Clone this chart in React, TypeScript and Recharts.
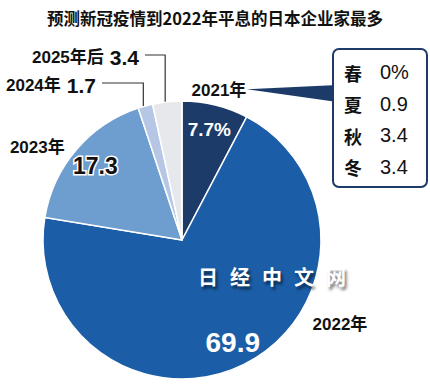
import React from 'react';
import { PieChart, Pie, Cell } from 'recharts';

// 预测新冠疫情平息的年份 (%)
const years = ['2021年', '2022年', '2023年', '2024年', '2025年后'];
const shares = [7.7, 69.9, 17.3, 1.7, 3.4];
const shareLabels = ['7.7%', '69.9', '17.3', '1.7', '3.4'];

// 季节分布 (2021年内)
const seasons = ['春', '夏', '秋', '冬'];
const seasonValues = ['0%', '0.9', '3.4', '3.4'];

const COLORS = ['#1d3b69', '#1b5ea7', '#6e9dcf', '#b5c7e4', '#e6e8ec'];
const NAVY = '#1d3b69';
const NUM_FONT = '"Liberation Sans", Arial, "Noto Sans CJK SC", sans-serif';
const CJK_FONT = '"Noto Sans CJK SC", "Liberation Sans", sans-serif';

const BOX = { left: 332, top: 48, width: 96, height: 140 };

const data = years.map((name, i) => ({ name, value: shares[i], label: shareLabels[i] }));

const RAD = Math.PI / 180;

const renderLabel = (props: any) => {
  const { cx, cy, midAngle, outerRadius, index } = props;
  const cos = Math.cos(-midAngle * RAD);
  const sin = Math.sin(-midAngle * RAD);
  const ex = cx + outerRadius * cos;
  const ey = cy + outerRadius * sin;
  const ix = cx + outerRadius * 0.82 * cos;
  const iy = cy + outerRadius * 0.82 * sin;
  const name = years[index];
  const val = shareLabels[index];

  if (index === 0) {
    const nx = cx + outerRadius * 1.11 * cos;
    const ny = cy + outerRadius * 1.11 * sin;
    return (
      <g>
        <polygon points={`${nx + 28},${ny - 1} ${BOX.left},${ny - 5} ${BOX.left},${ny + 11}`} fill={NAVY} />
        <text x={nx} y={ny} textAnchor="middle" dominantBaseline="central" fontFamily={NUM_FONT} fontWeight="bold" fontSize={17} fill="#111">{name}</text>
        <text x={ix} y={iy} textAnchor="middle" dominantBaseline="central" fontFamily={NUM_FONT} fontWeight="bold" fontSize={19} fill="#fff">{val}</text>
      </g>
    );
  }
  if (index === 1) {
    return (
      <g>
        <text x={ex + 96} y={ey - 40} textAnchor="middle" dominantBaseline="central" fontFamily={NUM_FONT} fontWeight="bold" fontSize={17} fill="#111">{name}</text>
        <text x={ix} y={iy} textAnchor="middle" dominantBaseline="central" fontFamily={NUM_FONT} fontWeight="bold" fontSize={28} fill="#fff">{val}</text>
      </g>
    );
  }
  if (index === 2) {
    return (
      <g>
        <text x={ex - 39} y={ey - 2} textAnchor="middle" dominantBaseline="central" fontFamily={NUM_FONT} fontWeight="bold" fontSize={17} fill="#111">{name}</text>
        <text x={ix} y={iy} textAnchor="middle" dominantBaseline="central" fontFamily={NUM_FONT} fontWeight="bold" fontSize={23} fill="#111" stroke="#fff" strokeWidth={3} paintOrder="stroke">{val}</text>
      </g>
    );
  }
  // small slices: leader line going straight up, then left to the text
  const lineY = index === 3 ? 83 : 55;
  const textEnd = index === 3 ? 96 : 139;
  return (
    <g>
      <polyline points={`${ex - 2},${ey} ${ex - 2},${lineY} ${textEnd + 6},${lineY}`} fill="none" stroke="#333" strokeWidth={1.2} />
      <text x={textEnd} y={lineY + 2} textAnchor="end" dominantBaseline="central" fontFamily={NUM_FONT} fontWeight="bold" fill="#111">
        <tspan fontSize={17}>{name}</tspan>
        <tspan fontSize={21} dx={6}>{val}</tspan>
      </text>
    </g>
  );
};

export default function App() {
  return (
    <div style={{ position: 'absolute', left: 0, top: 0, width: 430, height: 388, background: '#fff' }}>
      <PieChart width={430} height={388} margin={{ top: 0, right: 0, bottom: 0, left: 0 }}>
        <text x={215} y={18} textAnchor="middle" dominantBaseline="central" fontFamily={CJK_FONT} fontWeight="bold" fontSize={16.5} fill="#111">
          预测新冠疫情到2022年平息的日本企业家最多
        </text>
        <Pie
          data={data}
          dataKey="value"
          nameKey="name"
          cx={182}
          cy={240}
          outerRadius={139}
          startAngle={90}
          endAngle={-270}
          stroke="#fff"
          strokeWidth={1.5}
          label={renderLabel}
          labelLine={false}
          isAnimationActive={false}
        >
          {data.map((d, i) => (
            <Cell key={d.name} fill={COLORS[i]} />
          ))}
        </Pie>
      </PieChart>

      <div
        style={{
          position: 'absolute',
          left: BOX.left,
          top: BOX.top,
          width: BOX.width,
          height: BOX.height,
          boxSizing: 'border-box',
          border: `2px solid ${NAVY}`,
          borderRadius: 7,
          background: '#fff',
          paddingTop: 7,
          paddingLeft: 10,
        }}
      >
        {seasons.map((s, i) => (
          <div key={s} style={{ height: 31.5, display: 'flex', alignItems: 'center' }}>
            <span style={{ fontFamily: CJK_FONT, fontWeight: 'bold', fontSize: 18, width: 36, color: '#111' }}>{s}</span>
            <span style={{ fontFamily: NUM_FONT, fontSize: 20, color: '#111' }}>{seasonValues[i]}</span>
          </div>
        ))}
      </div>

      <div
        style={{
          position: 'absolute',
          left: 198,
          top: 262,
          fontFamily: CJK_FONT,
          fontWeight: 'bold',
          fontSize: 20,
          letterSpacing: 12,
          color: '#fff',
          textShadow: '2px 3px 3px rgba(0,0,0,0.55)',
          whiteSpace: 'nowrap',
          pointerEvents: 'none',
        }}
      >
        日经中文网
      </div>
    </div>
  );
}
